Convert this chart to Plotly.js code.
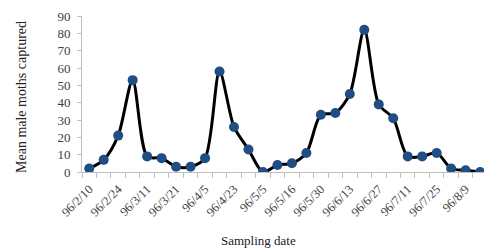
<!DOCTYPE html>
<html>
<head>
<meta charset="utf-8">
<script src="https://cdn.plot.ly/plotly-3.0.1.min.js"></script>
<style>html,body{margin:0;padding:0;background:#fff;}#chart{width:484px;height:250px;}</style>
</head>
<body>
<div id="chart"></div>
<script>
const moths = [2, 7, 21, 53, 9, 8, 3, 3, 8, 58, 26, 13, 0, 4, 5, 11, 33, 34, 45, 82, 39, 31, 9, 9, 11, 2, 1, 0];
const tickLabels = ['96/2/10', '96/2/24', '96/3/11', '96/3/21', '96/4/5', '96/4/23', '96/5/5', '96/5/16', '96/5/30', '96/6/13', '96/6/27', '96/7/11', '96/7/25', '96/8/9'];
const yTitle = 'Mean male moths captured';
const xTitle = 'Sampling date';

const idx = moths.map((_, i) => i);
const tickPos = tickLabels.map((_, i) => i * 2);

const serif = '"Liberation Serif", "Times New Roman", serif';

Plotly.newPlot('chart', [{
  x: idx,
  y: moths,
  type: 'scatter',
  mode: 'lines+markers',
  line: {color: '#000000', width: 3, shape: 'spline', smoothing: 0.8},
  marker: {color: '#1f4e85', size: 10},
  cliponaxis: true,
  hoverinfo: 'none'
}], {
  width: 484, height: 250,
  margin: {l: 82, r: 0, t: 16, b: 78},
  paper_bgcolor: '#fff', plot_bgcolor: '#fff',
  showlegend: false,
  xaxis: {
    range: [-0.5, 27.27],
    tickmode: 'array', tickvals: tickPos, ticktext: tickLabels,
    tickangle: -45,
    ticks: '',
    ticklabelstandoff: 4,
    showgrid: false, zeroline: false,
    showline: true, linecolor: '#bfbfbf', linewidth: 1,
    tickfont: {family: serif, size: 12.5, color: '#404040'},
    minor: {tick0: -0.5, dtick: 1, ticks: 'outside', ticklen: 5, tickcolor: '#bfbfbf', showgrid: false},
    fixedrange: true
  },
  yaxis: {
    range: [0, 90], dtick: 10,
    ticks: 'outside', ticklen: 4, tickcolor: '#bfbfbf',
    ticklabelstandoff: 4,
    showgrid: false, zeroline: false,
    showline: true, linecolor: '#bfbfbf', linewidth: 1,
    tickfont: {family: serif, size: 13, color: '#404040'},
    fixedrange: true
  },
  annotations: [
    {text: xTitle, xref: 'paper', yref: 'paper', x: (258 - 82) / 402, y: (250 - 78 - 240) / 156,
     xanchor: 'center', yanchor: 'middle', showarrow: false,
     font: {family: serif, size: 13, color: '#222'}},
    {text: yTitle, xref: 'paper', yref: 'paper', x: (22 - 82) / 402, y: (172 - 97) / 156,
     xanchor: 'center', yanchor: 'middle', showarrow: false, textangle: -90,
     font: {family: serif, size: 14, color: '#222'}}
  ]
}, {staticPlot: true});
</script>
</body>
</html>
